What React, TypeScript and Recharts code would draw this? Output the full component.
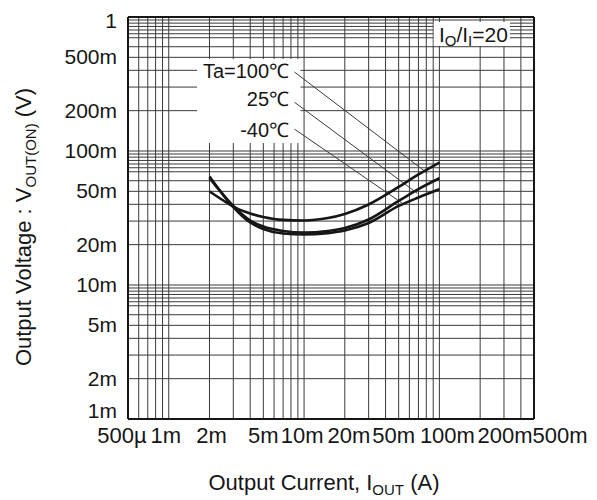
import React from "react"
import {
  LineChart,
  Line,
  XAxis,
  YAxis,
  CartesianGrid,
  ReferenceLine,
  ReferenceArea,
  ReferenceDot,
} from "recharts"

// output current (A) and on-voltage (V) per ambient temperature
const CURRENT = [0.002, 0.0025, 0.003, 0.004, 0.005, 0.007, 0.01, 0.015, 0.02, 0.03, 0.05, 0.07, 0.1]
const V_TA100 = [0.0499, 0.0431, 0.0385, 0.0342, 0.0322, 0.0306, 0.0303, 0.0316, 0.0339, 0.0399, 0.0539, 0.0668, 0.0821]
const V_TA25 = [0.0629, 0.0478, 0.0389, 0.0303, 0.0273, 0.0253, 0.0246, 0.0253, 0.0266, 0.0308, 0.0424, 0.052, 0.0626]
const V_TAM40 = [0.0645, 0.0476, 0.0382, 0.0293, 0.0262, 0.0242, 0.0238, 0.0244, 0.0255, 0.029, 0.0389, 0.045, 0.0518]

const X_GRID = [
  0.0005, 0.0006, 0.0007, 0.0008, 0.0009,
  0.001, 0.002, 0.003, 0.004, 0.005, 0.006, 0.007, 0.008, 0.009,
  0.01, 0.02, 0.03, 0.04, 0.05, 0.06, 0.07, 0.08, 0.09,
  0.1, 0.2, 0.3, 0.4, 0.5,
]
const Y_GRID = [
  0.001, 0.002, 0.003, 0.004, 0.005, 0.006, 0.007, 0.0075, 0.008, 0.0085, 0.009, 0.0095,
  0.01, 0.02, 0.03, 0.04, 0.05, 0.06, 0.07, 0.075, 0.08, 0.085, 0.09, 0.095,
  0.1, 0.2, 0.3, 0.4, 0.5, 0.6, 0.7, 0.75, 0.8, 0.85, 0.9, 0.95, 1,
]
const X_TICKS: [number, string][] = [
  [0.0005, "500µ"], [0.001, "1m"], [0.002, "2m"], [0.005, "5m"], [0.01, "10m"],
  [0.02, "20m"], [0.05, "50m"], [0.1, "100m"], [0.2, "200m"], [0.5, "500m"],
]
const Y_TICKS: [number, string][] = [
  [0.001, "1m"], [0.002, "2m"], [0.005, "5m"], [0.01, "10m"], [0.02, "20m"],
  [0.05, "50m"], [0.1, "100m"], [0.2, "200m"], [0.5, "500m"], [1, "1"],
]

// temperature labels: text anchor and leader line (current, voltage)
const TEMP_LABELS = ["Ta=100℃", "25℃", "-40℃"]
const LABEL_AT: [number, number][] = [[0.00775, 0.35], [0.00775, 0.216], [0.00775, 0.128]]
const LEADER_FROM: [number, number][] = [[0.0085, 0.388], [0.0085, 0.231], [0.0085, 0.1455]]
const LEADER_TO: [number, number][] = [[0.0816, 0.0682], [0.0688, 0.0483], [0.0533, 0.0407]]

const FONT = '"Liberation Sans", Arial, Helvetica, sans-serif'
const INK = "#161616"

const data = CURRENT.map((c, i) => ({
  current: c,
  t100: V_TA100[i],
  t25: V_TA25[i],
  tm40: V_TAM40[i],
}))

const findLabel = (list: [number, string][], v: number) => {
  const hit = list.find(([k]) => Math.abs(k - v) < k * 1e-6)
  return hit ? hit[1] : null
}

const X_NUDGE: Record<string, number> = {
  "500µ": -6, "1m": -3, "2m": 2, "5m": 0, "10m": -2,
  "20m": 4, "50m": -5, "100m": 8, "200m": 25, "500m": 26,
}

function XTick(props: any) {
  const { x, y, payload } = props
  const lab = findLabel(X_TICKS, payload.value)
  if (!lab) return <g />
  return (
    <text x={x + (X_NUDGE[lab] ?? 0)} y={y + 24} textAnchor="middle" fontSize={22} fill={INK} fontFamily={FONT}>
      {lab}
    </text>
  )
}

function YTick(props: any) {
  const { x, y, payload } = props
  const lab = findLabel(Y_TICKS, payload.value)
  if (!lab) return <g />
  const dy = lab === "1m" ? -8 : lab === "1" ? 4 : 0
  return (
    <text x={x - 11} y={y + 7 + dy} textAnchor="end" fontSize={21} fill={INK} fontFamily={FONT}>
      {lab}
    </text>
  )
}

function XTitle(props: any) {
  const vb = props.viewBox || { x: 128, y: 419, width: 406 }
  return (
    <text x={vb.x + vb.width / 2 - 7} y={vb.y + 71} textAnchor="middle" fontSize={22} fill={INK} fontFamily={FONT}>
      Output Current, I
      <tspan fontSize={15} dy={5}>OUT</tspan>
      <tspan dy={-5}> (A)</tspan>
    </text>
  )
}

function YTitle(props: any) {
  const vb = props.viewBox || { x: 0, y: 17, height: 402 }
  const cx = vb.x + 31
  const cy = vb.y + vb.height / 2 + 9
  return (
    <text x={cx} y={cy} transform={`rotate(-90, ${cx}, ${cy})`} textAnchor="middle" fontSize={22} fill={INK} fontFamily={FONT}>
      Output Voltage : V
      <tspan fontSize={15} dy={5}>OUT(ON)</tspan>
      <tspan dy={-5}> (V)</tspan>
    </text>
  )
}

const textLabel = (txt: string) => (p: any) => {
  const vb = p.viewBox
  const cx = vb.x + vb.width / 2
  const cy = vb.y + vb.height / 2
  return (
    <text x={cx} y={cy} textAnchor="end" fontSize={20} fill={INK} fontFamily={FONT}>
      {txt}
    </text>
  )
}

const ratioLabel = (p: any) => {
  const vb = p.viewBox
  const cx = vb.x + vb.width / 2
  const cy = vb.y + vb.height / 2
  return (
    <text x={cx} y={cy} textAnchor="end" fontSize={21} fill={INK} fontFamily={FONT}>
      I<tspan fontSize={15} dy={4}>O</tspan>
      <tspan dy={-4}>/I</tspan>
      <tspan fontSize={15} dy={4}>I</tspan>
      <tspan dy={-4}>=20</tspan>
    </text>
  )
}

export default function App() {
  return (
    <div style={{ position: "absolute", left: 0, top: 0, width: 597, height: 500, background: "#fff" }}>
      <LineChart width={597} height={500} data={data} margin={{ top: 17, right: 63, bottom: 0, left: 0 }}>
        <CartesianGrid stroke="#3a3a3a" strokeWidth={1} />
        <XAxis
          dataKey="current"
          type="number"
          scale="log"
          domain={[0.0005, 0.5]}
          ticks={X_GRID}
          interval={0}
          allowDataOverflow
          height={81}
          tickSize={0}
          tickMargin={0}
          tickLine={false}
          axisLine={{ stroke: INK, strokeWidth: 2 }}
          tick={<XTick />}
          label={{ content: XTitle }}
        />
        <YAxis
          type="number"
          scale="log"
          domain={[0.001, 1]}
          ticks={Y_GRID}
          interval={0}
          allowDataOverflow
          width={128}
          tickSize={0}
          tickMargin={0}
          tickLine={false}
          axisLine={{ stroke: INK, strokeWidth: 2 }}
          tick={<YTick />}
          label={{ content: YTitle }}
        />
        <ReferenceLine y={1} stroke={INK} strokeWidth={2} />
        <ReferenceLine x={0.5} stroke={INK} strokeWidth={2} />
        <ReferenceArea x1={0.00162} x2={0.0094} y1={0.1148} y2={0.486} fill="#fff" fillOpacity={1} stroke="none" />
        <ReferenceArea x1={0.0908} x2={0.332} y1={0.6075} y2={0.918} fill="#fff" fillOpacity={1} stroke="none" />
        {TEMP_LABELS.map((t, i) => (
          <ReferenceLine
            key={"l" + t}
            segment={[
              { x: LEADER_FROM[i][0], y: LEADER_FROM[i][1] },
              { x: LEADER_TO[i][0], y: LEADER_TO[i][1] },
            ]}
            stroke="#3a3a3a"
            strokeWidth={1}
          />
        ))}
        {TEMP_LABELS.map((t, i) => (
          <ReferenceDot key={"t" + t} x={LABEL_AT[i][0]} y={LABEL_AT[i][1]} r={1} fill="none" stroke="none" label={{ content: textLabel(t) }} />
        ))}
        <ReferenceDot x={0.3208} y={0.651} r={1} fill="none" stroke="none" label={{ content: ratioLabel }} />
        <Line dataKey="t100" type="monotone" stroke={INK} strokeWidth={2.6} dot={false} isAnimationActive={false} />
        <Line dataKey="t25" type="monotone" stroke={INK} strokeWidth={2.6} dot={false} isAnimationActive={false} />
        <Line dataKey="tm40" type="monotone" stroke={INK} strokeWidth={2.6} dot={false} isAnimationActive={false} />
      </LineChart>
    </div>
  )
}
